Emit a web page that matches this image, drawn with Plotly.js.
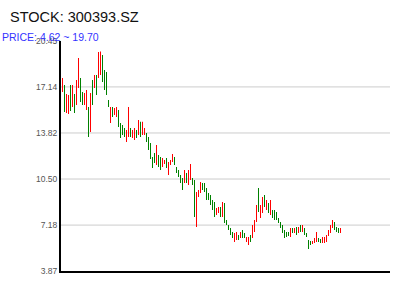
<!DOCTYPE html>
<html>
<head>
<meta charset="utf-8">
<script src="https://cdn.plot.ly/plotly-3.0.1.min.js"></script>
<style>html,body{margin:0;padding:0;background:#fff}#chart{width:400px;height:300px}</style>
</head>
<body>
<div id="chart"></div>
<script>
var titleText = "STOCK: 300393.SZ";
var subtitleText = "PRICE: 4.62 ~ 19.70";
var tickVals = [3.87, 7.18, 10.50, 13.82, 17.14, 20.45];
var tickText = ["3.87", "7.18", "10.50", "13.82", "17.14", "20.45"];
var gridVals = [7.18, 10.50, 13.82, 17.14];
var openP = [16.78,17.28,15.26,15.19,17.28,15.70,16.63,15.84,17.06,17.78,16.78,15.84,15.48,15.70,13.89,17.64,17.06,18.00,17.78,18.00,
19.44,18.36,18.22,16.20,14.54,15.70,15.12,14.97,15.48,14.54,14.40,14.18,13.17,13.53,14.18,13.46,13.32,14.04,13.68,14.62,
13.68,13.68,13.82,13.53,13.10,12.09,12.38,11.51,12.23,12.09,11.37,11.59,12.02,10.79,11.51,11.73,12.09,11.37,11.15,10.79,
10.58,10.22,10.94,10.07,10.43,10.58,10.43,7.04,9.21,9.50,10.22,10.22,9.86,9.50,9.35,8.99,8.85,7.91,8.05,8.49,
7.76,8.77,7.55,7.19,6.97,6.68,5.96,6.11,6.47,6.25,6.83,6.61,5.96,5.74,6.47,6.25,6.68,7.40,9.86,7.69,
8.05,9.35,8.27,8.77,7.91,8.27,8.27,8.12,7.69,7.40,7.19,6.83,6.68,6.68,6.32,6.97,6.61,7.04,6.61,7.19,
6.68,6.97,6.61,6.11,6.03,5.82,5.89,5.96,6.25,6.18,5.89,5.89,5.96,6.40,6.61,6.97,7.40,7.04,6.97,6.61];
var closeP = [17.78,15.34,16.63,16.56,15.41,17.28,15.26,17.64,19.22,16.06,15.84,16.70,16.92,13.53,16.70,15.84,18.00,16.56,19.66,19.70,
17.50,16.92,16.56,15.70,15.70,14.97,15.62,15.70,14.25,13.46,13.68,13.53,14.04,15.70,13.53,14.04,14.18,13.46,14.76,13.53,
14.62,14.18,13.17,12.59,11.95,11.30,11.66,12.95,11.37,11.15,12.02,11.87,11.30,11.73,11.87,12.31,11.51,10.94,10.65,10.22,
9.71,11.15,10.22,11.15,11.59,10.07,7.76,9.57,9.71,10.29,9.71,9.57,8.99,8.99,8.63,8.27,7.76,8.41,8.49,7.76,
8.85,7.33,7.19,6.83,6.47,6.25,6.61,6.68,6.11,6.68,6.25,6.25,6.32,6.32,5.96,7.19,7.55,8.63,8.12,8.63,
9.21,8.49,8.99,8.05,8.99,7.69,7.55,7.55,7.33,6.97,6.61,6.25,6.32,6.40,6.97,6.61,6.97,6.47,7.04,6.68,
7.19,6.47,6.32,5.46,5.74,6.03,6.25,6.68,5.96,5.89,6.32,6.32,6.47,6.83,7.19,7.55,6.83,6.68,6.61,6.97];

var days = openP.map(function(_, i){ return i; });
var lowP = openP.map(function(o, i){ return Math.min(o, closeP[i]); });
var bodyH = openP.map(function(o, i){ return Math.abs(closeP[i] - o); });
var colors = openP.map(function(o, i){ return closeP[i] >= o ? '#ff0000' : '#008000'; });

var trace = {
  type: 'bar',
  x: days, y: bodyH, base: lowP,
  width: 0.5,
  marker: {color: colors, line: {width: 0}},
  hoverinfo: 'none'
};

var shapes = gridVals.map(function(v){
  return {type: 'line', xref: 'paper', yref: 'y', x0: 0, x1: 1, y0: v, y1: v,
          line: {color: '#cccccc', width: 1}, layer: 'below'};
});

var layout = {
  width: 400, height: 300,
  margin: {l: 61, r: 10, t: 41, b: 29, pad: 0},
  paper_bgcolor: '#ffffff', plot_bgcolor: '#ffffff',
  showlegend: false,
  font: {family: 'Liberation Sans, Arial, sans-serif'},
  title: {text: titleText, xref: 'container', yref: 'container', x: 0.025, xanchor: 'left',
          y: 1 - 17/300, yanchor: 'middle', font: {size: 14.5, color: '#111111'}},
  annotations: [{text: subtitleText, xref: 'paper', yref: 'paper', showarrow: false,
    x: -61/329, xanchor: 'left', y: 1 + 4/230, yanchor: 'middle',
    font: {size: 10.5, color: '#3333ff'}}],
  xaxis: {range: [-0.75, 163.75], showgrid: false, zeroline: false, showticklabels: false,
          ticks: '', showline: true, linecolor: '#000000', linewidth: 2, fixedrange: true},
  yaxis: {range: [3.87, 20.45], tickvals: tickVals, ticktext: tickText, showgrid: false,
          zeroline: false, ticks: '', showline: true, linecolor: '#000000', linewidth: 2,
          tickfont: {size: 8.5, color: '#555555'}, fixedrange: true},
  shapes: shapes
};

Plotly.newPlot('chart', [trace], layout, {staticPlot: true, displayModeBar: false});
</script>
</body>
</html>
